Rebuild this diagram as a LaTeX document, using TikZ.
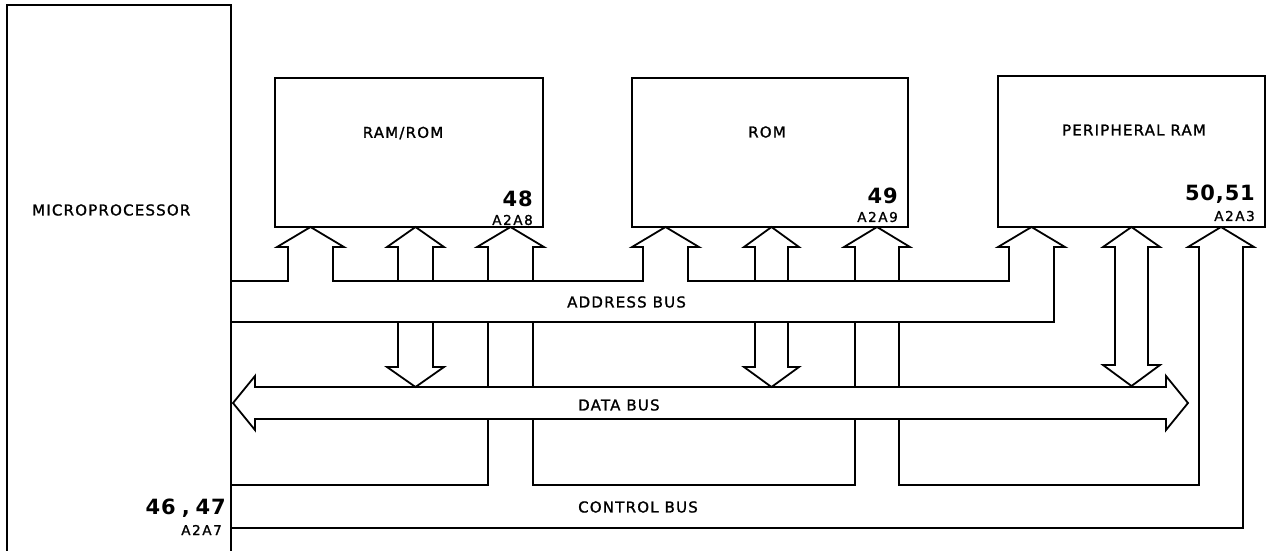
\documentclass[tikz,border=0pt]{standalone}
\usepackage{fontspec}
\setmainfont{DejaVu Sans}[LetterSpace=8,UprightFeatures={FakeBold=1.3}]

\tikzset{
  blockbox/.style={draw,line width=1.8pt,inner sep=0pt},
  title/.style={font=\fontsize{15}{15}\selectfont,inner sep=0pt},
  partno/.style={font=\bfseries\fontsize{21}{21}\selectfont\addfontfeature{LetterSpace=4},inner sep=0pt,anchor=east},
  refdes/.style={font=\fontsize{13.5}{13.5}\selectfont\addfontfeature{LetterSpace=12},inner sep=0pt,anchor=east},
  bus/.style={line width=1.8pt,line join=miter}
}

\begin{document}
\begin{tikzpicture}[x=1pt,y=-1pt]
  \useasboundingbox (0,0) rectangle (1270,550);
  \clip (0,0) rectangle (1270,550);
  % blocks
  \node[blockbox,minimum width=224pt,minimum height=560pt] (micro) at (119,285) {};
  \node[blockbox,minimum width=268pt,minimum height=149pt] (ramrom) at (409,152.5) {};
  \node[blockbox,minimum width=276pt,minimum height=149pt] (rom) at (770,152.5) {};
  \node[blockbox,minimum width=267pt,minimum height=151pt] (pram) at (1131.5,151.5) {};
  \node[title,anchor=west] (microname) at (32,210) {MICROPROCESSOR};
  \node[title] (ramromname) at (403,133) {RAM/ROM};
  \node[title] (romname) at (767,132) {ROM};
  \node[title] (pramname) at (1134,130) {PERIPHERAL RAM};
  \node[partno] (microno) at (226,508) {46\kern6pt,\kern6pt47};
  \node[refdes] (microref) at (222,530) {A2A7};
  \node[partno] (ramromno) at (533,199) {48};
  \node[refdes] (ramromref) at (533,220) {A2A8};
  \node[partno] (romno) at (898,196) {49};
  \node[refdes] (romref) at (898,217) {A2A9};
  \node[partno] (pramno) at (1255,194) {50,51};
  \node[refdes] (pramref) at (1255,216) {A2A3};

  % address bus
  \draw[bus] (231,281) -- (288,281) -- (288,247) -- (277,247) -- (310.5,227) -- (344,247) -- (333,247) -- (333,281)
    -- (643,281) -- (643,247) -- (632,247) -- (665.5,227) -- (699,247) -- (688,247) -- (688,281)
    -- (1009,281) -- (1009,247) -- (998,247) -- (1031.5,227) -- (1065,247) -- (1054,247) -- (1054,322) -- (231,322);
  \foreach \a/\b in {398/433,488/533,755/788,855/899}
    \draw[bus] (\a,281) -- (\a,247) -- (\a-11,247) -- ({(\a+\b)/2},227) -- (\b+11,247) -- (\b,247) -- (\b,281);
  \foreach \a/\b in {398/433,755/788}
    \draw[bus] (\a,322) -- (\a,367) -- (\a-11,367) -- ({(\a+\b)/2},387) -- (\b+11,367) -- (\b,367) -- (\b,322);
  \foreach \a in {488,533,855,899}
    \draw[bus] (\a,322) -- (\a,387);
  \node[title,anchor=west] (addrname) at (567,302) {ADDRESS BUS};

  % data bus
  \draw[bus] (255,387) -- (1166,387) -- (1166,376) -- (1188,403) -- (1166,430) -- (1166,419)
    -- (255,419) -- (255,430) -- (233,403) -- (255,376) -- cycle;
  \draw[bus] (1115,247) -- (1115,365) -- (1103,365) -- (1131.5,386) -- (1160,365) -- (1148,365)
    -- (1148,247) -- (1160,247) -- (1131.5,227) -- (1103,247) -- cycle;
  \node[title,anchor=west] (dataname) at (578,405) {DATA BUS};

  % control bus
  \draw[bus] (231,485) -- (488,485) -- (488,419);
  \draw[bus] (533,419) -- (533,485) -- (855,485) -- (855,419);
  \draw[bus] (899,419) -- (899,485) -- (1199,485) -- (1199,247) -- (1188,247) -- (1221,227) -- (1254,247)
    -- (1243,247) -- (1243,528) -- (231,528);
  \node[title,anchor=west] (ctrlname) at (578,507) {CONTROL BUS};
\end{tikzpicture}
\end{document}
